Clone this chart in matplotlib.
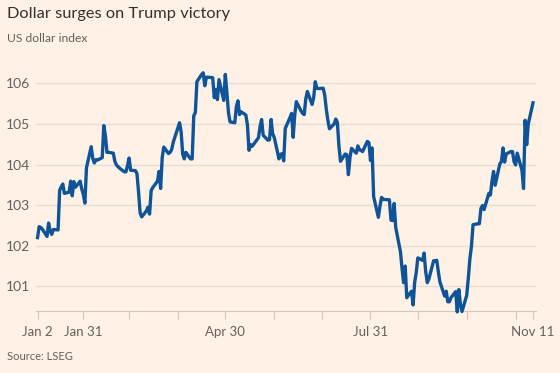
import matplotlib.pyplot as plt
import numpy as np
import pandas as pd

# US dollar index, daily closes 2024
jan = [102.20, 102.47, 102.45, 102.41, 102.23, 102.56, 102.36, 102.28, 102.40, 102.39,
       103.36, 103.45, 103.52, 103.29, 103.32, 103.59, 103.23, 103.58, 103.44, 103.59,
       103.40, 103.27]
feb = [103.05, 103.92, 104.44, 104.15, 104.04, 104.12, 104.11, 104.17, 104.96, 104.71,
       104.30, 104.30, 104.28, 104.08, 103.99, 103.95, 103.91, 103.82, 103.82, 103.97,
       104.16]
mar = [103.86, 103.85, 103.78, 103.33, 102.81, 102.71, 102.86, 102.95, 102.78, 103.36,
       103.43, 103.59, 103.83, 103.41, 104.17, 104.43, 104.27, 104.30, 104.37, 104.55]
apr = [105.03, 104.80, 104.26, 104.14, 104.30, 104.14, 104.14, 105.20, 105.28, 106.04,
       106.22, 106.26, 105.94, 106.15, 106.15, 106.14, 105.65, 105.85, 105.60, 106.09,
       105.58, 106.22]
may = [105.77, 105.28, 105.05, 105.03, 105.43, 105.57, 105.23, 105.30, 105.22, 104.98,
       104.35, 104.49, 104.45, 104.61, 104.66, 104.93, 105.11, 104.72, 104.60, 104.61,
       105.11, 104.76, 104.67]
jun = [104.14, 104.25, 104.27, 104.09, 104.89, 105.16, 105.26, 104.67, 105.22, 105.55,
       105.32, 105.26, 105.23, 105.62, 105.80, 105.48, 105.65, 106.04, 105.88, 105.87]
jul = [105.88, 105.71, 105.36, 105.09, 104.88, 105.00, 105.12, 105.04, 104.46, 104.08,
       104.26, 104.24, 103.75, 104.17, 104.40, 104.28, 104.46, 104.36, 104.35, 104.32,
       104.57, 104.54, 104.10]
aug = [104.41, 103.21, 102.70, 102.97, 103.19, 103.14, 103.14, 103.13, 102.63, 102.62,
       103.04, 102.45, 101.85, 101.44, 101.09, 101.50, 100.72, 100.88, 100.54, 101.10,
       101.34, 101.70]
sep = [101.64, 101.82, 101.36, 101.09, 101.18, 101.63, 101.63, 101.64, 101.36, 101.11,
       100.76, 100.88, 100.62, 100.62, 100.72, 100.87, 100.37, 100.92, 100.56, 100.38,
       100.78]
oct_ = [101.20, 101.68, 101.99, 102.52, 102.54, 102.54, 102.92, 102.99, 102.89, 103.29,
        103.25, 103.59, 103.83, 103.49, 104.02, 104.07, 104.41, 104.06, 104.26, 104.32,
        104.32, 104.07, 103.99]
nov = [104.28, 103.86, 103.41, 105.09, 104.49, 105.00, 105.52]

values = jan + feb + mar + apr + may + jun + jul + aug + sep + oct_ + nov
dates = pd.bdate_range("2024-01-02", "2024-11-11")
dates = dates[dates != pd.Timestamp("2024-03-29")]  # Good Friday

tick_dates = ["2024-01-02", "2024-01-31", "2024-02-29", "2024-03-31", "2024-04-30",
              "2024-05-31", "2024-06-30", "2024-07-31", "2024-08-30", "2024-09-30",
              "2024-10-31", "2024-11-11"]
tick_labels = ["Jan 2", "Jan 31", "", "", "Apr 30", "", "", "Jul 31", "", "", "", "Nov 11"]
y_ticks = [101, 102, 103, 104, 105, 106]

bg = "#FFF1E5"
grey = "#66605C"
plt.rcParams["font.family"] = ["Lato", "DejaVu Sans"]

fig = plt.figure(figsize=(5.6, 3.73), dpi=100, facecolor=bg)
ax = fig.add_axes([35.5 / 560, 1 - 310.7 / 373, (536 - 35.5) / 560, (310.7 - 67.1) / 373])
ax.set_facecolor(bg)

ax.plot(dates, values, color="#0F5499", lw=2.4, solid_joinstyle="round", zorder=3,
        clip_on=False)

ax.set_ylim(100.4, 106.4)
ax.set_xlim(pd.Timestamp("2024-01-02") - pd.Timedelta(days=1.3),
            pd.Timestamp("2024-11-11") + pd.Timedelta(days=1.9))
ax.set_yticks(y_ticks)
ax.set_yticklabels([str(v) for v in y_ticks])
ax.set_xticks(pd.to_datetime(tick_dates))
ax.set_xticklabels(tick_labels)

ax.grid(axis="y", color="#E9DCD2", lw=1)
ax.tick_params(axis="y", length=0, pad=4, labelsize=10, labelcolor=grey)
ax.tick_params(axis="x", length=6, width=0.8, color="#CEC6BF", pad=5,
               labelsize=9.5, labelcolor=grey)
for s in ["top", "right", "left"]:
    ax.spines[s].set_visible(False)
ax.spines["bottom"].set_color("#CEC6BF")
ax.spines["bottom"].set_linewidth(0.8)

fig.text(7 / 560, 1 - 14 / 373, "Dollar surges on Trump victory", fontsize=11.8,
         color="#33302E", va="center", ha="left")
fig.text(7 / 560, 1 - 38 / 373, "US dollar index", fontsize=8.7, color=grey,
         va="center", ha="left")
fig.text(7 / 560, 1 - 357 / 373, "Source: LSEG", fontsize=8, color=grey,
         va="center", ha="left")

fig.savefig("out.png", dpi=100, facecolor=bg)
